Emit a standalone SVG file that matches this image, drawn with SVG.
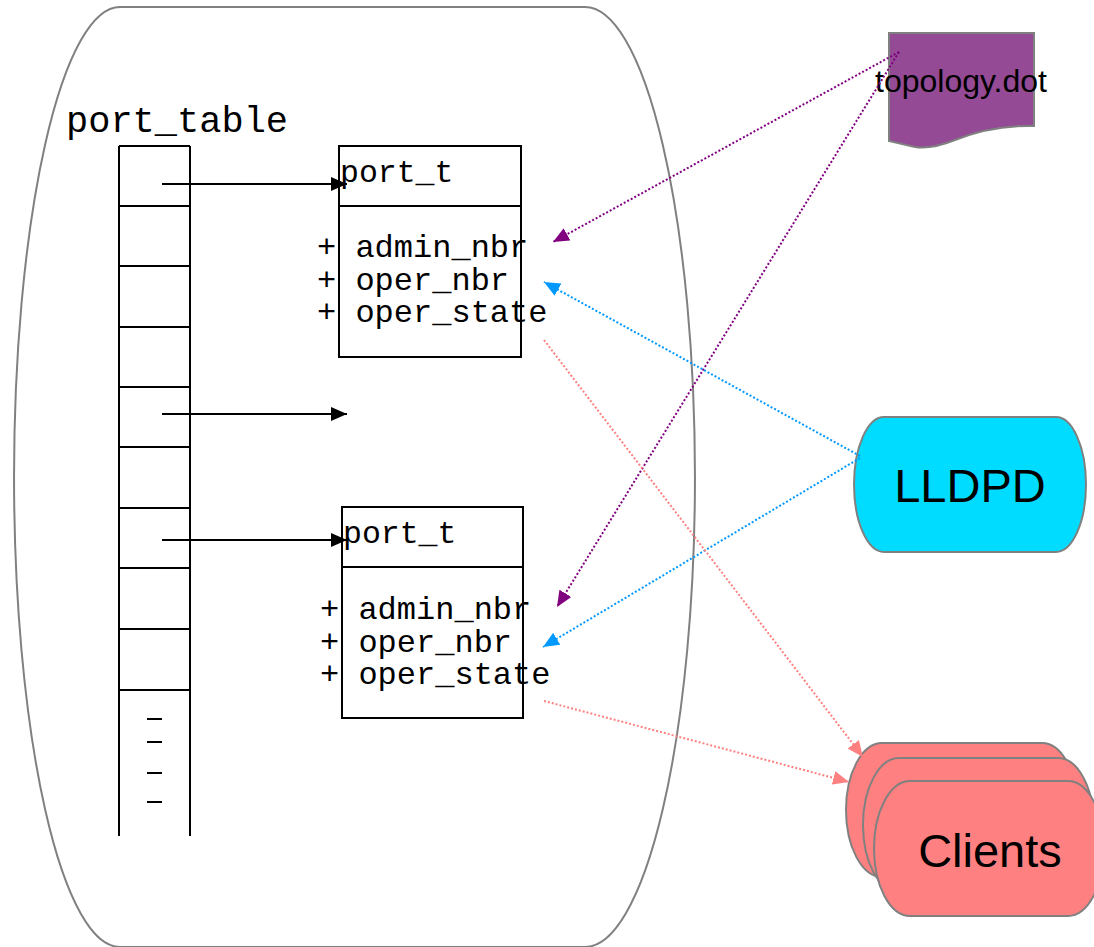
<svg xmlns="http://www.w3.org/2000/svg" width="1094" height="947" viewBox="0 0 1094 947">
  <style>
    .mono { font-family: "Liberation Mono", "DejaVu Sans Mono", monospace; fill: #000; }
    .sans { font-family: "Liberation Sans", Arial, sans-serif; fill: #000; }
    .box { fill: none; stroke: #000; stroke-width: 2; }
    .rule { stroke: #000; stroke-width: 2; }
    .shape { stroke: #808080; stroke-width: 2; }
    .ptr { stroke: #000; stroke-width: 2; fill: none; }
    .dot { fill: none; stroke-width: 2; stroke-dasharray: 2 2; }
  </style>
  <defs>
    <marker id="arrow-black" viewBox="0 0 16 14" refX="16" refY="7" markerWidth="16" markerHeight="14" markerUnits="userSpaceOnUse" orient="auto">
      <path d="M0,0 L16,7 L0,14 Z" fill="#000"/>
    </marker>
    <marker id="arrow-purple" viewBox="0 0 16 14" refX="16" refY="7" markerWidth="16" markerHeight="14" markerUnits="userSpaceOnUse" orient="auto">
      <path d="M0,0 L16,7 L0,14 Z" fill="#800080"/>
    </marker>
    <marker id="arrow-blue" viewBox="0 0 16 14" refX="16" refY="7" markerWidth="16" markerHeight="14" markerUnits="userSpaceOnUse" orient="auto">
      <path d="M0,0 L16,7 L0,14 Z" fill="#0099ff"/>
    </marker>
    <marker id="arrow-red" viewBox="0 0 16 14" refX="16" refY="7" markerWidth="16" markerHeight="14" markerUnits="userSpaceOnUse" orient="auto">
      <path d="M0,0 L16,7 L0,14 Z" fill="#ff8080"/>
    </marker>
  </defs>

  <!-- process container -->
  <g id="container">
    <path d="M120,7 L585,7 A110,470 0 0 1 585,947 L120,947 A106,470 0 0 1 120,7 Z" fill="#fff" stroke="#808080" stroke-width="2"/>
  </g>

  <!-- port_table array -->
  <g id="port_table">
    <text class="mono" x="66" y="132" font-size="37">port_table</text>
    <line class="rule" x1="119" y1="146" x2="119" y2="836"/>
    <line class="rule" x1="190" y1="146" x2="190" y2="836"/>
    <line class="rule" x1="119" y1="146" x2="190" y2="146"/>
    <line class="rule" x1="119" y1="206" x2="190" y2="206"/>
    <line class="rule" x1="119" y1="266" x2="190" y2="266"/>
    <line class="rule" x1="119" y1="327" x2="190" y2="327"/>
    <line class="rule" x1="119" y1="387" x2="190" y2="387"/>
    <line class="rule" x1="119" y1="447" x2="190" y2="447"/>
    <line class="rule" x1="119" y1="508" x2="190" y2="508"/>
    <line class="rule" x1="119" y1="568" x2="190" y2="568"/>
    <line class="rule" x1="119" y1="629" x2="190" y2="629"/>
    <line class="rule" x1="119" y1="690" x2="190" y2="690"/>
    <line class="rule" x1="147" y1="719" x2="162" y2="719"/>
    <line class="rule" x1="147" y1="742" x2="162" y2="742"/>
    <line class="rule" x1="147" y1="773" x2="162" y2="773"/>
    <line class="rule" x1="147" y1="802" x2="162" y2="802"/>
  </g>

  <!-- first port_t record -->
  <g id="port_t_1">
    <rect class="box" x="339" y="146" width="182" height="211"/>
    <line class="rule" x1="339" y1="206" x2="521" y2="206"/>
    <text class="mono" x="340" y="182" font-size="31.5">port_t</text>
    <text class="mono" font-size="32"><tspan x="317" y="257">+ admin_nbr</tspan><tspan x="317" y="290">+ oper_nbr</tspan><tspan x="317" y="322">+ oper_state</tspan></text>
  </g>

  <!-- second port_t record -->
  <g id="port_t_2">
    <rect class="box" x="342" y="507" width="181" height="211"/>
    <line class="rule" x1="342" y1="567" x2="523" y2="567"/>
    <text class="mono" x="343" y="543" font-size="31.5">port_t</text>
    <text class="mono" font-size="32"><tspan x="320" y="619">+ admin_nbr</tspan><tspan x="320" y="652">+ oper_nbr</tspan><tspan x="320" y="684">+ oper_state</tspan></text>
  </g>

  <!-- topology file -->
  <g id="topology">
    <path class="shape" d="M889,33 H1034 V126 C1000,125 975,132 955,140 C940,146 928,149 915,147 L889,141 Z" fill="#944a94"/>
    <text class="sans" x="961" y="92" font-size="32" text-anchor="middle">topology.dot</text>
  </g>

  <!-- lldp daemon -->
  <g id="lldpd">
    <path class="shape" d="M884,417 L1056,417 A30,67.5 0 0 1 1056,552 L884,552 A30,67.5 0 0 1 884,417 Z" fill="#00dcff"/>
    <text class="sans" x="970" y="502" font-size="47" text-anchor="middle">LLDPD</text>
  </g>

  <!-- clients stack -->
  <g id="clients">
    <path class="shape" d="M882,743 L1042,743 A36,67 0 0 1 1042,877 L882,877 A36,67 0 0 1 882,743 Z" fill="#ff8080"/>
    <path class="shape" d="M899,758 L1058,758 A36,67 0 0 1 1058,892 L899,892 A36,67 0 0 1 899,758 Z" fill="#ff8080"/>
    <path class="shape" d="M910,781 L1068,781 A36,67.5 0 0 1 1068,916 L910,916 A36,67.5 0 0 1 910,781 Z" fill="#ff8080"/>
    <text class="sans" x="990" y="867" font-size="47" text-anchor="middle">Clients</text>
  </g>

  <!-- connectors -->
  <g id="connectors">
    <line class="ptr" x1="162" y1="184" x2="347" y2="184" marker-end="url(#arrow-black)"/>
    <line class="ptr" x1="162" y1="414" x2="347" y2="414" marker-end="url(#arrow-black)"/>
    <line class="ptr" x1="162" y1="540" x2="347" y2="540" marker-end="url(#arrow-black)"/>

    <line class="dot" stroke="#800080" x1="899" y1="52" x2="553" y2="242" marker-end="url(#arrow-purple)"/>
    <line class="dot" stroke="#800080" x1="899" y1="52" x2="557" y2="607" marker-end="url(#arrow-purple)"/>

    <line class="dot" stroke="#0099ff" x1="860" y1="456" x2="544" y2="282" marker-end="url(#arrow-blue)"/>
    <line class="dot" stroke="#0099ff" x1="860" y1="458" x2="543" y2="647" marker-end="url(#arrow-blue)"/>

    <line class="dot" stroke="#ff8080" x1="544" y1="340" x2="863" y2="757" marker-end="url(#arrow-red)"/>
    <line class="dot" stroke="#ff8080" x1="544" y1="701" x2="849" y2="782" marker-end="url(#arrow-red)"/>
  </g>
</svg>
